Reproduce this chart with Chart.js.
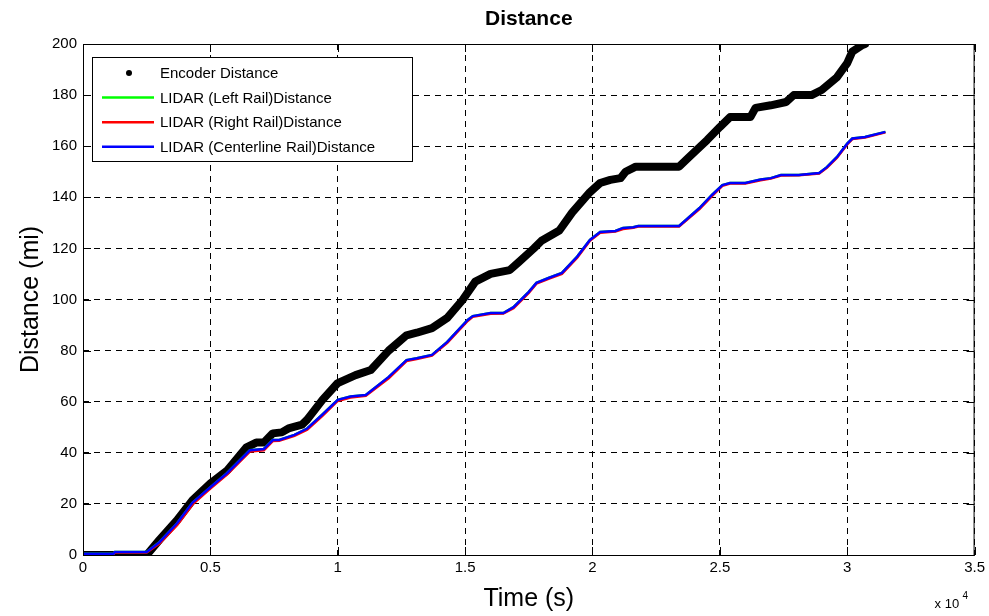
<!DOCTYPE html>
<html>
<head>
<meta charset="utf-8">
<script src="https://cdn.jsdelivr.net/npm/chart.js@4"></script>
<style>
  html, body { margin: 0; padding: 0; background: #fff; }
  #wrap { width: 989px; height: 616px; }
</style>
</head>
<body>
<div id="wrap"><canvas id="chart"></canvas></div>
<script>
// encoder distance (time in s, distance in mi)
const encoderTime = [0, 1200, 2500, 3000, 3700, 4300, 5000, 5650, 6400, 6800, 7100, 7450, 7800, 8100, 8600, 8800, 9400, 10000, 10700, 11300, 12000, 12700, 13100, 13700, 14300, 14900, 15400, 16000, 16750, 17100, 17700, 18000, 18700, 19200, 19900, 20300, 20700, 21100, 21300, 21700, 23400, 23800, 24500, 25000, 25400, 26200, 26400, 27000, 27600, 27900, 28600, 29000, 29600, 30000, 30200, 30600, 30700];
const encoderDist = [0, 0, 0, 5.9, 13.7, 21.5, 28, 33, 42, 44, 44, 47.6, 48, 49.7, 51, 53, 60.7, 67.3, 70.4, 72.4, 80, 86, 87, 88.8, 92.8, 99.8, 107, 110, 111.5, 114.6, 120, 123, 127, 134, 142, 145.6, 146.8, 147.5, 150, 152, 152, 155.8, 162.4, 167.5, 171.4, 171.4, 175, 176, 177.3, 180, 180, 182, 187, 192.5, 197, 199.6, 200];

// LIDAR distances share one time base
const lidarTime = [0, 1200, 1250, 2500, 3000, 3700, 4300, 5000, 5650, 6550, 7100, 7450, 7700, 8300, 8800, 9400, 10000, 10500, 11100, 12000, 12700, 13100, 13700, 14300, 15100, 15300, 16000, 16500, 16900, 17500, 17800, 18300, 18800, 19400, 19900, 20300, 20900, 21200, 21600, 21800, 23400, 24200, 24700, 25100, 25400, 26000, 26600, 27000, 27400, 28100, 28900, 29200, 29600, 30000, 30200, 30700, 31500];
const leftRail = [0.5, 0.5, 1.2, 1.2, 5, 12.4, 20.4, 26.4, 32, 41, 41.5, 45, 45, 47, 49.5, 55, 60.7, 62, 62.6, 69.6, 76.3, 77, 78.3, 83.4, 92, 93.5, 94.7, 94.7, 97, 103, 106.5, 108.5, 110.4, 116.8, 123.3, 126.4, 126.8, 128, 128.3, 128.8, 128.8, 135.8, 141, 144.8, 145.6, 145.6, 147, 147.5, 148.7, 148.7, 149.5, 151.8, 155.8, 161, 163, 163.6, 165.6];
const rightRail = [0.3, 0.3, 1, 1, 4.5, 11.8, 19.8, 26, 31.5, 40.5, 41, 44.6, 44.7, 46.6, 49, 54.5, 60.3, 61.6, 62.3, 69.2, 75.9, 76.7, 78, 83, 91.6, 93.2, 94.4, 94.5, 96.6, 102.6, 106.2, 108.2, 110, 116.4, 123, 126.1, 126.6, 127.6, 128.1, 128.6, 128.6, 135.4, 140.6, 144.5, 145.4, 145.4, 146.7, 147.3, 148.5, 148.6, 149.3, 151.5, 155.5, 160.7, 162.8, 163.4, 165.4];
const centerRail = [0.5, 0.5, 1.2, 1.2, 5, 12.5, 20.5, 26.5, 32, 41, 41.5, 45, 45, 47, 49.5, 55, 60.7, 62, 62.6, 69.7, 76.3, 77, 78.3, 83.4, 92, 93.5, 94.7, 94.7, 97, 103, 106.5, 108.5, 110.4, 116.8, 123.3, 126.4, 126.8, 128, 128.3, 128.8, 128.8, 135.8, 141, 144.8, 145.6, 145.6, 147, 147.5, 148.7, 148.7, 149.5, 151.8, 155.8, 161, 163, 163.6, 165.6];

const xTicks = [0, 5000, 10000, 15000, 20000, 25000, 30000, 35000];
const yTicks = [0, 20, 40, 60, 80, 100, 120, 140, 160, 180, 200];

const legendLabels = ['Encoder Distance', 'LIDAR (Left Rail)Distance', 'LIDAR (Right Rail)Distance', 'LIDAR (Centerline Rail)Distance'];
const chartTitle = 'Distance';

function toPoints(xs, ys) {
  return xs.map((x, i) => ({ x: x, y: ys[i] }));
}

const FONT = 'Arial, "Liberation Sans", Helvetica, sans-serif';

// frame, inside tick marks, legend box, title and exponent label
const matlabLook = {
  id: 'matlabLook',
  afterDraw(chart) {
    const ctx = chart.ctx;
    const a = chart.chartArea;
    const xs = chart.scales.x, ys = chart.scales.y;
    ctx.save();
    ctx.strokeStyle = '#000';
    ctx.lineWidth = 1;
    ctx.setLineDash([]);
    ctx.strokeRect(a.left + 0.5, a.top + 0.5, a.right - a.left - 1, a.bottom - a.top);
    ctx.beginPath();
    xTicks.forEach(v => {
      const px = Math.round(xs.getPixelForValue(v)) + 0.5;
      ctx.moveTo(px, a.bottom); ctx.lineTo(px, a.bottom - 8);
      ctx.moveTo(px, a.top); ctx.lineTo(px, a.top + 8);
    });
    yTicks.forEach(v => {
      const py = Math.round(ys.getPixelForValue(v)) + 0.5;
      ctx.moveTo(a.left, py); ctx.lineTo(a.left + 8, py);
      ctx.moveTo(a.right, py); ctx.lineTo(a.right - 8, py);
    });
    ctx.stroke();

    // title
    ctx.fillStyle = '#000';
    ctx.font = 'bold 21px ' + FONT;
    ctx.textAlign = 'center';
    ctx.textBaseline = 'middle';
    ctx.fillText(chartTitle, (a.left + a.right) / 2, 19);

    // x 10^4
    ctx.textAlign = 'left';
    ctx.font = '13px ' + FONT;
    ctx.fillText('x 10', a.right - 40, a.bottom + 49);
    ctx.font = '10px ' + FONT;
    ctx.fillText('4', a.right - 12, a.bottom + 41);

    // legend
    const lx = a.left + 9, ly = a.top + 13, lw = 320, lh = 104;
    ctx.fillStyle = '#fff';
    ctx.fillRect(lx, ly, lw, lh);
    ctx.strokeStyle = '#000';
    ctx.strokeRect(lx + 0.5, ly + 0.5, lw, lh);
    ctx.font = '15px ' + FONT;
    ctx.textBaseline = 'middle';
    chart.data.datasets.forEach((ds, i) => {
      const rowY = ly + 16 + i * 24.6;
      if (i === 0) {
        ctx.fillStyle = '#000';
        ctx.beginPath();
        ctx.arc(lx + 37, rowY, 3, 0, Math.PI * 2);
        ctx.fill();
      } else {
        ctx.strokeStyle = ds.borderColor;
        ctx.lineWidth = 2.5;
        ctx.beginPath();
        ctx.moveTo(lx + 10, rowY); ctx.lineTo(lx + 62, rowY);
        ctx.stroke();
      }
      ctx.fillStyle = '#000';
      ctx.fillText(legendLabels[i], lx + 68, rowY + 1);
    });
    ctx.restore();
  }
};

new Chart(document.getElementById('chart'), {
  type: 'line',
  data: {
    datasets: [
      {
        label: legendLabels[0],
        data: toPoints(encoderTime, encoderDist),
        borderColor: '#000',
        backgroundColor: '#000',
        borderWidth: 8,
        borderCapStyle: 'round',
        borderJoinStyle: 'round',
        pointRadius: 0,
        order: 4
      },
      {
        label: legendLabels[1],
        data: toPoints(lidarTime, leftRail),
        borderColor: '#00ff00',
        borderWidth: 2.5,
        pointRadius: 0,
        order: 3
      },
      {
        label: legendLabels[2],
        data: toPoints(lidarTime, rightRail),
        borderColor: '#ff0000',
        borderWidth: 2.5,
        pointRadius: 0,
        order: 2
      },
      {
        label: legendLabels[3],
        data: toPoints(lidarTime, centerRail),
        borderColor: '#0000ff',
        borderWidth: 2.5,
        pointRadius: 0,
        order: 1
      }
    ]
  },
  options: {
    responsive: true,
    maintainAspectRatio: false,
    animation: false,
    layout: { padding: { left: 12, right: 14, top: 44, bottom: 0 } },
    plugins: {
      legend: { display: false },
      tooltip: { enabled: false }
    },
    scales: {
      x: {
        type: 'linear',
        min: 0,
        max: 35000,
        afterBuildTicks: s => { s.ticks = xTicks.map(v => ({ value: v })); },
        afterFit: s => { s.height = 61; },
        ticks: {
          color: '#000',
          padding: 4,
          font: { size: 15, family: FONT },
          callback: v => String(v / 10000)
        },
        grid: { color: '#000', drawTicks: false, tickBorderDash: [], borderDash: [6, 5] },
        border: { color: '#000', dash: [6, 5], display: false },
        title: {
          display: true,
          text: 'Time (s)',
          color: '#000',
          font: { size: 25, family: FONT },
          padding: { top: 0, bottom: 2 }
        }
      },
      y: {
        min: 0,
        max: 200,
        afterBuildTicks: s => { s.ticks = yTicks.map(v => ({ value: v })); },
        afterFit: s => { s.width = 71; },
        ticks: {
          color: '#000',
          padding: 6,
          font: { size: 15, family: FONT }
        },
        grid: { color: '#000', drawTicks: false },
        border: { color: '#000', dash: [6, 5], display: false },
        title: {
          display: true,
          text: 'Distance (mi)',
          color: '#000',
          font: { size: 25, family: FONT },
          padding: { top: 4, bottom: 0 }
        }
      }
    }
  },
  plugins: [matlabLook]
});
</script>
</body>
</html>
